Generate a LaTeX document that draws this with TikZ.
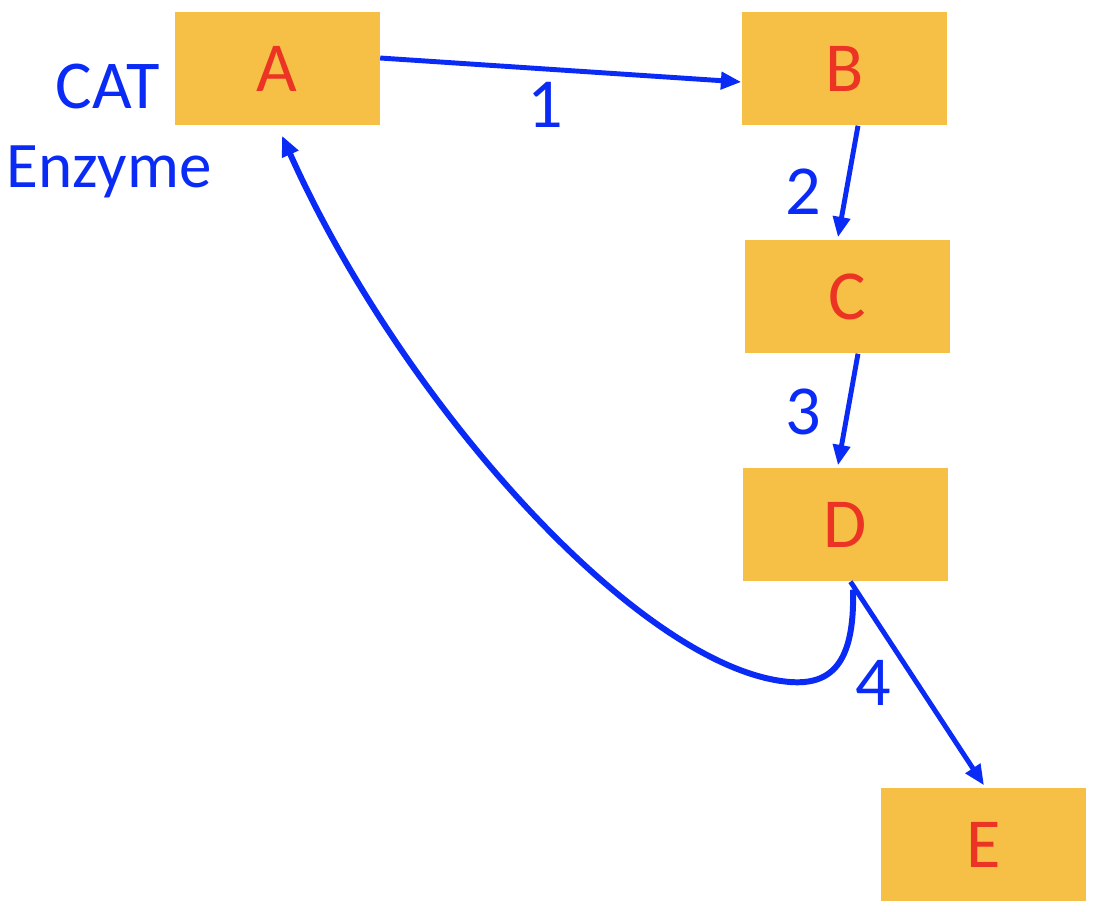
\documentclass[tikz,border=0pt]{standalone}
\usepackage{fontspec}
\setmainfont{Carlito}
\usepackage{tikz}
\usetikzlibrary{arrows.meta}
\definecolor{boxfill}{RGB}{246, 191, 69}
\definecolor{lettered}{RGB}{236, 52, 36}
\definecolor{flowblue}{RGB}{10, 43, 245}

\begin{document}
\begin{tikzpicture}[
    box/.style={fill=boxfill, minimum width=2.05cm, minimum height=1.13cm, inner sep=0pt, text=lettered, font=\fontsize{20}{24}\selectfont},
    flow/.style={flowblue, line width=1.4pt, -{Triangle[length=5.8pt,width=4.8pt]}},
    lbl/.style={text=flowblue, font=\fontsize{20}{24}\selectfont}]
        \useasboundingbox (0,0) rectangle (10.96,-9.12);
        \node[box] (A) at (2.77,-0.685) {A};
        \node[box] (B) at (8.445,-0.685) {B};
        \node[box] (C) at (8.475,-2.965) {C};
        \node[box] (D) at (8.455,-5.245) {D};
        \node[box] (E) at (9.835,-8.445) {E};
        \node[lbl, anchor=base, font=\fontsize{19.5}{24}\selectfont] (cat) at (1.08,-1.08) {CAT};
        \node[lbl, anchor=base, font=\fontsize{18.5}{24}\selectfont] (enz) at (1.09,-1.87) {Enzyme};
        \draw[flow] ([yshift=0.105cm]A.east) -- ([yshift=-0.135cm]B.west);
        \draw[flow] ([xshift=0.135cm]B.south) -- ([xshift=-0.095cm, yshift=0.02cm]C.north);
        \draw[flow] ([xshift=0.105cm]C.south) -- ([xshift=-0.075cm, yshift=0.02cm]D.north);
        \draw[flow] ([xshift=0.05cm]D.south) -- ([xshift=0.005cm, yshift=0.02cm]E.north);
        \draw[flow, line width=1.7pt] ([xshift=0.075cm, yshift=-0.08cm]D.south)
            .. controls (8.55,-6.65) and (8.30,-6.85) .. (7.90,-6.82)
            .. controls (6.40,-6.70) and (4.00,-4.00) .. ([xshift=0.05cm, yshift=-0.1cm]A.south);
        \node[lbl] (n1) at (5.45,-1.05) {1};
        \node[lbl] (n2) at (8.03,-1.92) {2};
        \node[lbl] (n3) at (8.03,-4.12) {3};
        \node[lbl] (n4) at (8.73,-6.83) {4};
      \end{tikzpicture}
\end{document}
